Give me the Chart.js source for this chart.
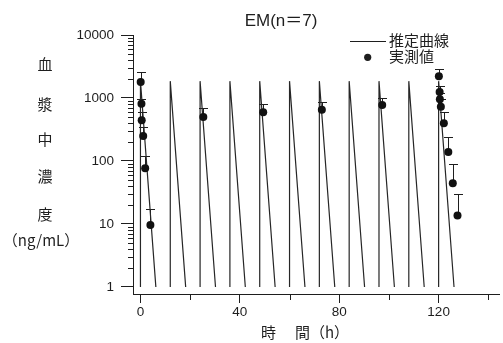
<!DOCTYPE html>
<html><head><meta charset="utf-8">
<script src="https://cdn.jsdelivr.net/npm/chart.js@4/dist/chart.umd.min.js"></script>
<style>html,body{margin:0;padding:0;background:#fff;overflow:hidden}canvas{display:block}</style>
</head><body>
<canvas id="c" width="503" height="343"></canvas>
<script>
// ---- chart text ----
const titleText = 'EM(n＝7)';
const xTitleParts = ['時', '間（h）'];
const yTitleChars = ['血', '漿', '中', '濃', '度', '（ng/mL）'];
const legendLabels = ['推定曲線', '実測値'];

// ---- tick labels ----
const xMajorTicks = [0, 40, 80, 120];
const xMinorTicks = [20, 60, 100, 140];
const yMajorTicks = [1, 10, 100, 1000, 10000];
const yMinorMultipliers = [2, 3, 4, 5, 6, 7, 8, 9];

// ---- predicted curve (time h, conc ng/mL; null = break) ----
const predTime = [0, 0, 6.2, 6.2, 12, 12, 18.2, 18.2, 24, 24, 30.2, 30.2, 36, 36, 42.2, 42.2,
  48, 48, 54.2, 54.2, 60, 60, 66.2, 66.2, 72, 72, 78.2, 78.2, 84, 84, 90.2, 90.2,
  96, 96, 102.2, 102.2, 108, 108, 114.2, 114.2, 120, 120, 126.2, 126.2];
const predConc = [1, 1850, 1, null, 1, 1850, 1, null, 1, 1850, 1, null, 1, 1850, 1, null,
  1, 1850, 1, null, 1, 1850, 1, null, 1, 1850, 1, null, 1, 1850, 1, null,
  1, 1850, 1, null, 1, 1850, 1, null, 1, 1850, 1, null];

// ---- observed (mean, mean+SD) ----
const obsTime = [0.1, 0.4, 0.5, 1.1, 1.9, 4.0, 25.3, 49.4, 73.0, 97.3,
  120.1, 120.4, 120.5, 120.9, 122.1, 123.9, 125.7, 127.6];
const obsConc = [1795, 812, 443, 249, 76.6, 9.6, 499, 593, 652, 774,
  2210, 1245, 953, 728, 397, 139, 44.3, 13.7];
const obsUpper = [2615, 965, 593, 347, 119, 17.5, 687, 803, 874, 1011,
  2886, 1567, 1213, 965, 593, 240, 89.6, 29.4];

const FONT = "'Liberation Sans', Arial, 'Noto Sans CJK JP', sans-serif";
const CJK = "'Noto Sans CJK JP', 'Liberation Sans', sans-serif";
const INK = '#1e1e1e';

const decor = {
  id: 'decor',
  beforeDatasetsDraw(chart) {
    const { ctx, scales: { x, y } } = chart;
    ctx.save();
    ctx.strokeStyle = INK;
    ctx.lineWidth = 1;
    obsTime.forEach((t, i) => {
      const px = Math.round(x.getPixelForValue(t)) + 0.5;
      const py = y.getPixelForValue(obsConc[i]);
      const pu = Math.round(y.getPixelForValue(obsUpper[i])) + 0.5;
      ctx.beginPath();
      ctx.moveTo(px, py); ctx.lineTo(px, pu);
      ctx.moveTo(px - 4.5, pu); ctx.lineTo(px + 4.5, pu);
      ctx.stroke();
    });
    ctx.restore();
  },
  afterDraw(chart) {
    const { ctx, scales: { x, y }, chartArea: a } = chart;
    ctx.save();
    ctx.strokeStyle = INK;
    ctx.lineWidth = 1;
    // minor ticks
    ctx.beginPath();
    yMajorTicks.slice(0, -1).forEach(d => {
      yMinorMultipliers.forEach(m => {
        const py = Math.round(y.getPixelForValue(d * m)) + 0.5;
        ctx.moveTo(a.left - 5, py); ctx.lineTo(a.left, py);
      });
    });
    xMinorTicks.forEach(v => {
      const px = Math.round(x.getPixelForValue(v)) + 0.5;
      ctx.moveTo(px, a.bottom); ctx.lineTo(px, a.bottom + 6);
    });
    ctx.stroke();

    ctx.fillStyle = INK;
    // title
    ctx.font = '17px ' + FONT;
    ctx.textAlign = 'center';
    ctx.textBaseline = 'middle';
    ctx.fillText(titleText, 281, 21.5);

    // y-axis title
    ctx.font = '15px ' + CJK;
    const yCenters = [64, 104, 139, 176.5, 214, 240];
    yTitleChars.forEach((c, i) => {
      ctx.fillText(c, i < 5 ? 45 : 41, yCenters[i]);
    });

    // x-axis title
    ctx.textAlign = 'left';
    ctx.font = '15px ' + CJK;
    ctx.fillText(xTitleParts[0], 261, 332);
    ctx.fillText(xTitleParts[1], 295, 332);

    // legend
    ctx.lineWidth = 1.2;
    ctx.beginPath();
    ctx.moveTo(350, 41.5); ctx.lineTo(386, 41.5);
    ctx.stroke();
    ctx.beginPath();
    ctx.arc(367.7, 57.3, 3.6, 0, Math.PI * 2);
    ctx.fill();
    ctx.font = '15px ' + CJK;
    ctx.fillText(legendLabels[0], 389, 40);
    ctx.fillText(legendLabels[1], 389, 56.5);
    ctx.restore();
  }
};

new Chart(document.getElementById('c').getContext('2d'), {
  type: 'line',
  data: {
    datasets: [
      {
        label: legendLabels[0],
        data: predTime.map((t, i) => ({ x: t, y: predConc[i] })),
        borderColor: '#262626', borderWidth: 1.2, pointRadius: 0,
        spanGaps: false, tension: 0, fill: false, order: 2
      },
      {
        label: legendLabels[1],
        data: obsTime.map((t, i) => ({ x: t, y: obsConc[i] })),
        showLine: false, pointRadius: 4, pointBackgroundColor: '#111',
        pointBorderWidth: 0, borderColor: '#111', order: 1
      }
    ]
  },
  options: {
    responsive: false, animation: false, devicePixelRatio: 1,
    layout: { padding: { top: 35, left: 0, right: 0, bottom: 0 } },
    plugins: { legend: { display: false }, title: { display: false }, tooltip: { enabled: false } },
    scales: {
      x: {
        type: 'linear', bounds: 'data', min: -3, max: 144.3,
        afterBuildTicks: s => { s.ticks = xMajorTicks.map(v => ({ value: v })); },
        afterFit: s => { s.height = 49; },
        grid: { drawOnChartArea: false, drawTicks: true, tickLength: 9, tickColor: INK, tickWidth: 1 },
        border: { display: true, color: INK, width: 1 },
        ticks: { font: { family: FONT, size: 13.5 }, color: INK, padding: 1, maxRotation: 0, autoSkip: false, callback: v => String(v) }
      },
      y: {
        type: 'logarithmic', bounds: 'data', min: 0.774, max: 10000,
        afterBuildTicks: s => { s.ticks = yMajorTicks.map(v => ({ value: v })); },
        afterFit: s => { s.width = 133; },
        grid: { drawOnChartArea: false, drawTicks: true, tickLength: 12, tickColor: INK, tickWidth: 1 },
        border: { display: true, color: INK, width: 1 },
        ticks: { font: { family: FONT, size: 13.5 }, color: INK, padding: 7, autoSkip: false, callback: v => String(v) }
      }
    }
  },
  plugins: [decor]
});
</script>
</body></html>
